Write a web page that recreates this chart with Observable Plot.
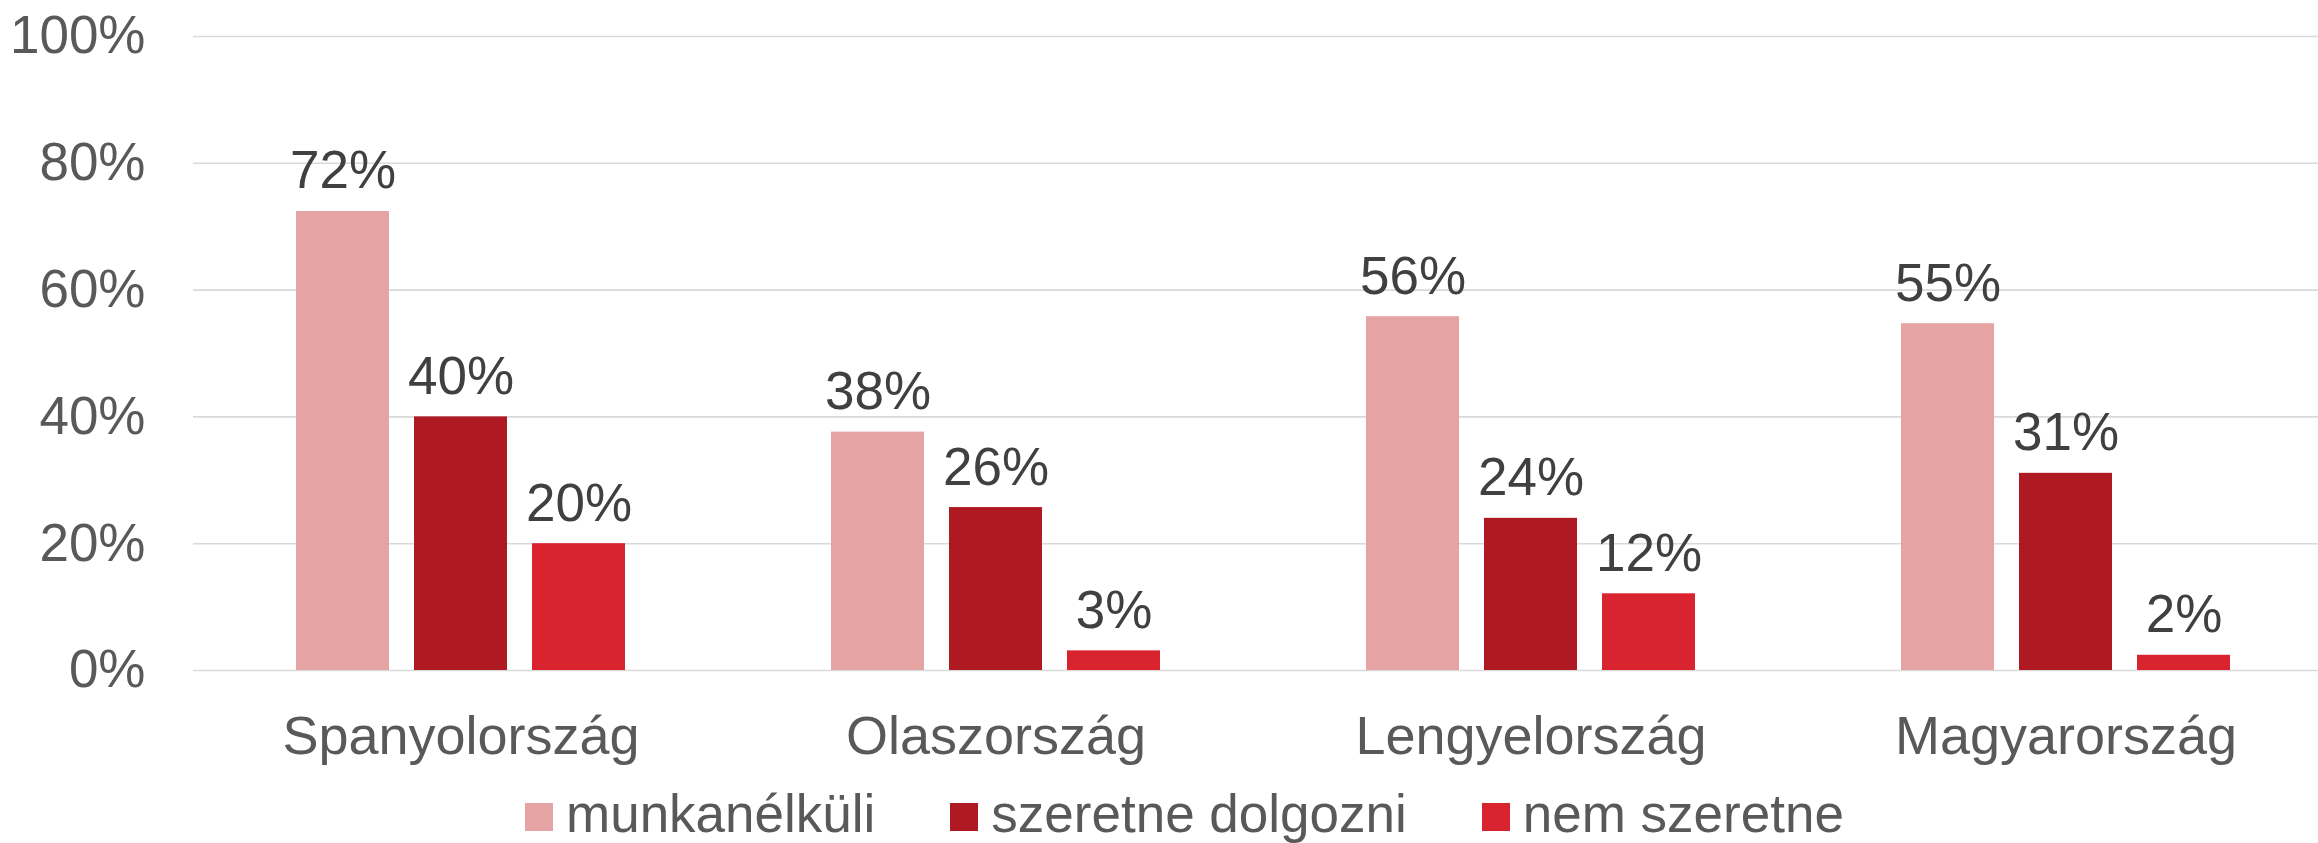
<!DOCTYPE html>
<html>
<head>
<meta charset="utf-8">
<script src="https://cdn.jsdelivr.net/npm/d3@7"></script>
<script src="https://cdn.jsdelivr.net/npm/@observablehq/plot@0.6"></script>
<style>
  html, body { margin: 0; padding: 0; background: #fff; overflow: hidden; }
  body { width: 2318px; height: 843px; position: relative; font-family: "Liberation Sans", Arial, sans-serif; }
  #chart { position: absolute; left: 0; top: 0; }
  #legend { position: absolute; left: 525px; top: 787px; display: flex; font-size: 53px; line-height: 53px; color: #595959; white-space: nowrap; }
  .item { display: flex; align-items: flex-start; margin-right: 75px; }
  .sw { width: 28px; height: 28px; margin-top: 16px; margin-right: 13px; }
</style>
</head>
<body>
<div id="chart"></div>
<div id="legend"></div>
<script>
const countries = ["Spanyolország", "Olaszország", "Lengyelország", "Magyarország"];
const series = ["munkanélküli", "szeretne dolgozni", "nem szeretne"];
const munkanelkuli = [0.724, 0.376, 0.558, 0.547];
const szeretneDolgozni = [0.40, 0.257, 0.240, 0.311];
const nemSzeretne = [0.20, 0.031, 0.121, 0.024];
const seriesColors = ["#E6A3A4", "#AF1A22", "#D9232E"];
const yTicks = [0, 0.2, 0.4, 0.6, 0.8, 1];

const seriesValues = [munkanelkuli, szeretneDolgozni, nemSzeretne];
const data = [];
countries.forEach((c, i) => {
  series.forEach((s, j) => {
    data.push({country: c, series: s, value: seriesValues[j][i]});
  });
});
const pct = d3.format(".0%");

const chart = Plot.plot({
  width: 2318,
  height: 780,
  marginTop: 36,
  marginBottom: 110,
  marginLeft: 193,
  marginRight: -15,
  style: {fontFamily: "'Liberation Sans', Arial, sans-serif", color: "#595959", background: "#fff"},
  fx: {domain: countries, padding: 0, label: null},
  x: {domain: series, paddingInner: 0.212, paddingOuter: 0.869, axis: null, label: null},
  y: {domain: [0, 1], label: null},
  color: {domain: series, range: seriesColors},
  marks: [
    Plot.ruleY(yTicks, {y: d => d, stroke: "#D9D9D9", strokeWidth: 1.6}),
    Plot.axisY({ticks: yTicks, tickFormat: pct, tickSize: 0, tickPadding: 48, fontSize: 53, label: null}),
    Plot.axisFx({anchor: "bottom", tickSize: 0, tickPadding: 45, fontSize: 54, label: null}),
    Plot.barY(data, {fx: "country", x: "series", y: "value", fill: "series"}),
    Plot.text(data, {fx: "country", x: "series", y: "value", text: d => pct(d.value), lineAnchor: "bottom", dy: -23, fontSize: 53, fill: "#404040"})
  ]
});
document.getElementById("chart").appendChild(chart);

const legend = document.getElementById("legend");
series.forEach((s, j) => {
  const item = document.createElement("div");
  item.className = "item";
  const sw = document.createElement("div");
  sw.className = "sw";
  sw.style.background = seriesColors[j];
  const label = document.createElement("span");
  label.textContent = s;
  item.appendChild(sw);
  item.appendChild(label);
  legend.appendChild(item);
});
</script>
</body>
</html>
